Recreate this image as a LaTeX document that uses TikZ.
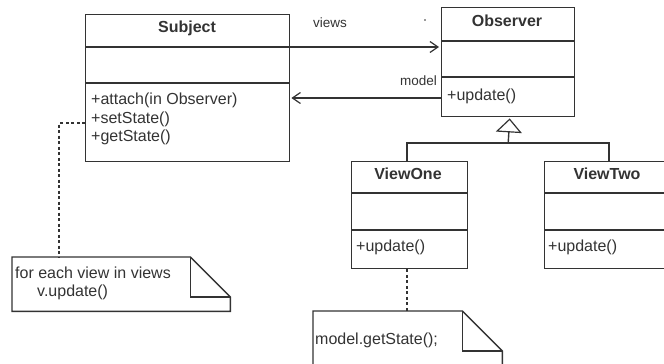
\documentclass[tikz,border=0pt]{standalone}
\usepackage{fontspec}
\setmainfont{Liberation Sans}
\usetikzlibrary{arrows.meta,calc}
\definecolor{ink}{HTML}{333333}
\tikzset{
  umlline/.style={draw=ink, line width=1.4pt},
  classbox/.style={umlline, rectangle, anchor=north west, inner sep=0pt},
  ctitle/.style={text=ink, font=\fontsize{16}{18.5}\selectfont\bfseries, inner sep=0pt},
  member/.style={text=ink, font=\fontsize{16}{18.5}\selectfont, anchor=west, inner sep=0pt, align=left},
  rolelabel/.style={text=ink, font=\fontsize{13.5}{16}\selectfont, inner sep=0pt},
  noteline/.style={draw=ink, line width=1.4pt, dash pattern=on 3pt off 2.5pt},
  assoc/.style={umlline, -{Straight Barb[length=8pt,width=11pt,line width=1.2pt]}},
  inherit/.style={umlline, -{Triangle[open,length=14pt,width=26pt,line width=1.2pt]}},
  holder/.style={anchor=north west, inner sep=0pt, draw=none}
}
\begin{document}
\begin{tikzpicture}[x=1pt,y=-1pt]
\useasboundingbox (0,0) rectangle (664,364);

% ---- Subject ----
\node[classbox, minimum width=204pt, minimum height=147pt] (subj) at (85,14) {};
\draw[umlline] (85,47) -- (289,47);
\draw[umlline] (85,83) -- (289,83);
\node[ctitle] (subjT) at (187,28) {Subject};
\node[member] (subjM) at (91,119) {+attach(in Observer)\\+setState()\\+getState()};

% ---- Observer ----
\node[classbox, minimum width=133pt, minimum height=109pt] (obs) at (441,7) {};
\draw[umlline] (441,41) -- (574,41);
\draw[umlline] (441,77) -- (574,77);
\node[ctitle] (obsT) at (507,21) {Observer};
\node[member] (obsM) at (447,96) {+update()};

% ---- ViewOne ----
\node[classbox, minimum width=116pt, minimum height=107pt] (v1) at (351,161) {};
\draw[umlline] (351,193) -- (467,193);
\draw[umlline] (351,230) -- (467,230);
\node[ctitle] (v1T) at (408,174) {ViewOne};
\node[member] (v1M) at (356,247) {+update()};

% ---- ViewTwo ----
\node[classbox, minimum width=130pt, minimum height=107pt] (v2) at (544,161) {};
\draw[umlline] (544,193) -- (674,193);
\draw[umlline] (544,230) -- (674,230);
\node[ctitle] (v2T) at (607,174) {ViewTwo};
\node[member] (v2M) at (548,247) {+update()};

% ---- associations ----
\draw[assoc] (subj.east |- 0,47) -- ($(obs.west |- 0,47)+(-2,0)$);
\draw[assoc] (obs.west |- 0,98) -- ($(subj.east |- 0,98)+(1,0)$);
\node[rolelabel, anchor=west] (lviews) at (313,23) {views};
\node[rolelabel, anchor=east] (lmodel) at (437,81) {model};
\fill[ink] (425,20) circle (0.9);

% ---- generalisation ----
\coordinate (jn) at (obs.south |- 0,143);
\draw[umlline] (v1.north -| 407,0) |- (jn) -| (v2.north -| 609,0);
\draw[inherit] (jn) -- ($(obs.south)+(1.5,1)$);

% ---- note on Subject ----
\node[holder, minimum width=218pt, minimum height=54pt] (n1) at (12,257) {};
\draw[umlline] (n1.north west) -- ($(n1.north east)+(-40,0)$) -- ($(n1.north east)+(0,40)$)
  -- (n1.south east) -- (n1.south west) -- cycle;
\draw[umlline] ($(n1.north east)+(-40,0)$) |- ($(n1.north east)+(0,40)$);
\node[member] (n1a) at (15,273) {for each view in views};
\node[member] (n1b) at (37,292) {v.update()};
\draw[noteline] (subj.west |- 0,123) -| ($(n1.north west)+(47,0)$);

% ---- note on ViewOne ----
\node[holder, minimum width=189pt, minimum height=60pt] (n2) at (313,311) {};
\draw[umlline] (n2.north west) -- ($(n2.north east)+(-40,0)$) -- ($(n2.north east)+(0,40)$)
  -- (n2.south east) -- (n2.south west) -- cycle;
\draw[umlline] ($(n2.north east)+(-40,0)$) |- ($(n2.north east)+(0,40)$);
\node[member] (n2a) at (315,340) {model.getState();};
\draw[noteline] (v1.south -| 407,0) -- (n2.north -| 407,0);
\end{tikzpicture}
\end{document}
